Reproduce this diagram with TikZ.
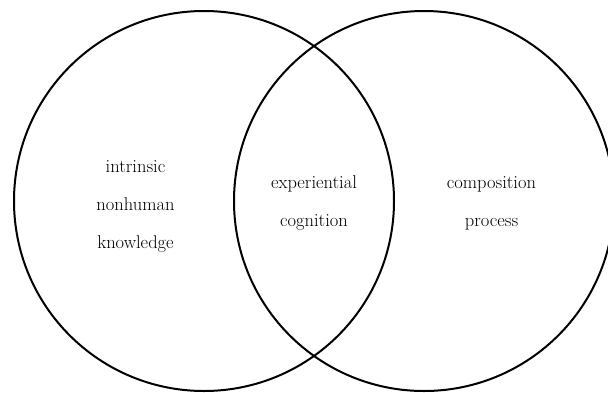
\documentclass[tikz,border=0pt]{standalone}
\begin{document}
\begin{tikzpicture}[x=1pt,y=-1pt,
  venn/.style={draw=black,line width=2pt,circle,minimum size=380pt,inner sep=0pt},
  lbl/.style={align=center,font=\fontsize{18.5}{38}\selectfont,inner sep=0pt}]
\useasboundingbox (0,0) rectangle (608,392);
\node[venn] (L) at (204,201) {};
\node[venn] (R) at (424,201) {};
\node[lbl] (lt) at (135.5,206) {intrinsic\\nonhuman\\knowledge};
\node[lbl] (mt) at (314,203) {experiential\\cognition};
\node[lbl] (rt) at (491.5,203) {composition\\process};
\end{tikzpicture}
\end{document}
